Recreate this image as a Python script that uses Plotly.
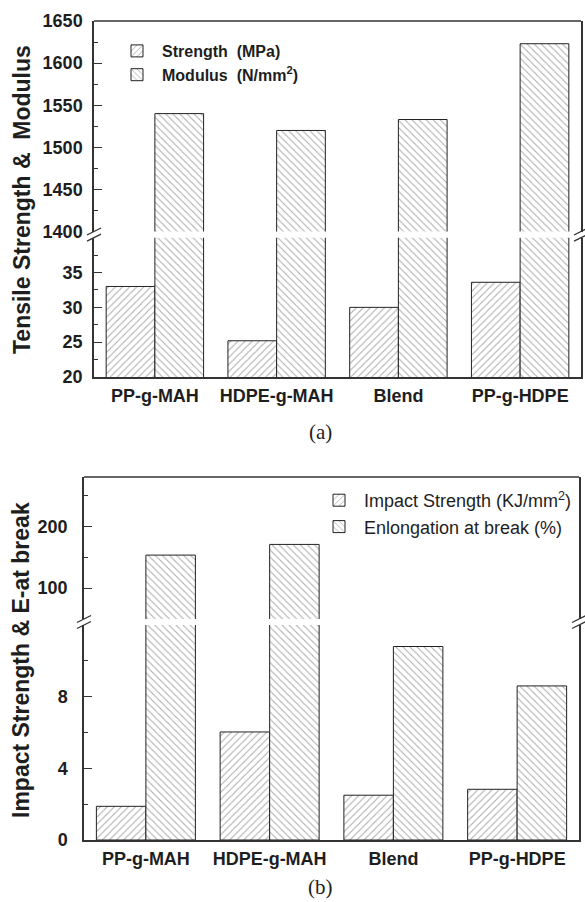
import plotly.graph_objects as go

# ---- data ----
materials = ["PP-g-MAH", "HDPE-g-MAH", "Blend", "PP-g-HDPE"]

tensile_strength = [33.0, 25.2, 30.0, 33.6]        # MPa
tensile_modulus = [1540, 1520, 1533, 1623]          # N/mm2

impact_strength = [1.88, 6.03, 2.50, 2.83]          # KJ/mm2
elongation_break = [153.5, 170.8, 10.8, 8.6]        # %

# ---- figure geometry (pixels) ----
W, H = 585, 902


def px_x(p):
    return p / W


def px_y(p):
    return 1 - p / H


FONT = "Liberation Sans, Arial, sans-serif"
INK = "#1e1e1e"
AXIS = "#333333"
HATCH = "#555555"

fig = go.Figure()


def hatch(shape):
    return dict(shape=shape, fgcolor=HATCH, bgcolor="white", size=5, solidity=0.2)


def add_pair(xref, y_low, y_up, vals_a, vals_b, name_a, name_b, legend):
    for yref, show in ((y_low, True), (y_up, False)):
        fig.add_trace(go.Bar(
            x=materials, y=vals_a, name=name_a, xaxis=xref, yaxis=yref,
            marker=dict(color="white", line=dict(color="#222", width=1), pattern=hatch("/")),
            showlegend=show, legend=legend, legendgroup=name_a,
        ))
        fig.add_trace(go.Bar(
            x=materials, y=vals_b, name=name_b, xaxis=xref, yaxis=yref,
            marker=dict(color="white", line=dict(color="#222", width=1), pattern=hatch("\\")),
            showlegend=show, legend=legend, legendgroup=name_b,
        ))


add_pair("x", "y", "y2", tensile_strength, tensile_modulus,
         "Strength  (MPa)", "Modulus  (N/mm<sup>2</sup>)", "legend")
add_pair("x2", "y3", "y4", impact_strength, elongation_break,
         "Impact Strength (KJ/mm<sup>2</sup>)", "Enlongation at break (%)", "legend2")

tickfont = dict(family=FONT, size=18, color=INK, weight="bold")


def yax(domain, rng, tickvals, minor_vals, anchor, standoff):
    return dict(
        domain=domain, range=rng, anchor=anchor,
        tickmode="array", tickvals=tickvals,
        ticks="inside", ticklen=8, tickwidth=1.3, tickcolor=AXIS,
        minor=dict(tickmode="array", tickvals=minor_vals, ticks="inside",
                   ticklen=4, tickwidth=1.3, tickcolor=AXIS),
        showline=True, linecolor=AXIS, linewidth=1.5, mirror=True,
        showgrid=False, zeroline=False, tickfont=tickfont,
        ticklabelstandoff=standoff, fixedrange=True, automargin=False,
    )


def xax(domain, anchor, standoff):
    return dict(
        domain=domain, anchor=anchor, type="category", range=[-0.5, 3.5],
        showline=True, linecolor=AXIS, linewidth=1.5, mirror=False,
        ticks="", showgrid=False, zeroline=False, tickfont=tickfont,
        ticklabelstandoff=standoff, fixedrange=True, automargin=False,
    )


# top chart: plot area x 94..581, upper y 21..231.5, lower y 237.7..377
# bottom chart: plot area x 84..579, upper y 477..619, lower y 625..840
fig.update_layout(
    width=W, height=H, autosize=False,
    margin=dict(l=0, r=0, t=0, b=0, pad=0, autoexpand=False),
    paper_bgcolor="white", plot_bgcolor="white",
    barmode="group", bargap=0.2, bargroupgap=0,
    xaxis=xax([px_x(94), px_x(581)], "y", 2),
    yaxis=yax([px_y(377), px_y(237.7)], [20, 40], [20, 25, 30, 35],
              [22.5, 27.5, 32.5, 37.5], "x", 6),
    yaxis2=yax([px_y(231.5), px_y(21)], [1400, 1650],
               [1400, 1450, 1500, 1550, 1600, 1650],
               [1425, 1475, 1525, 1575, 1625], "x", 6),
    xaxis2=xax([px_x(84), px_x(579)], "y3", 2),
    yaxis3=yax([px_y(840), px_y(625)], [0, 12], [0, 4, 8], [2, 6, 10], "x2", 11),
    yaxis4=yax([px_y(619), px_y(477)], [50, 280], [100, 200], [150, 250], "x2", 11),
    legend=dict(
        x=px_x(112), y=px_y(34), xanchor="left", yanchor="top",
        font=dict(family=FONT, size=16, color=INK, weight="bold"),
        bgcolor="rgba(0,0,0,0)", borderwidth=0, itemwidth=40,
        traceorder="normal",
    ),
    legend2=dict(
        x=px_x(577), y=px_y(482), xanchor="right", yanchor="top",
        font=dict(family=FONT, size=18, color=INK),
        bgcolor="rgba(0,0,0,0)", borderwidth=0, itemwidth=40,
        traceorder="normal",
    ),
)

shapes = []
# top border lines (the x axes only draw the bottom edge)
for xd, yd in (("x domain", "y2 domain"), ("x2 domain", "y4 domain")):
    shapes.append(dict(type="line", xref=xd, yref=yd, x0=0, x1=1, y0=1, y1=1,
                       line=dict(color=AXIS, width=1.5)))

# axis-break slashes at both sides of each chart
for xd, ylow, yup in (("x domain", "y domain", "y2 domain"),
                      ("x2 domain", "y3 domain", "y4 domain")):
    for xa in (0, 1):
        for yd, ya in ((ylow, 1), (yup, 0)):
            shapes.append(dict(
                type="line", xref=xd, yref=yd,
                xsizemode="pixel", xanchor=xa, x0=-7, x1=7,
                ysizemode="pixel", yanchor=ya, y0=-3.5, y1=3.5,
                line=dict(color=AXIS, width=1.3),
            ))
fig.update_layout(shapes=shapes)

title_font = dict(family=FONT, size=23, color=INK, weight="bold")
fig.add_annotation(text="Tensile Strength &  Modulus", xref="paper", yref="paper",
                   x=px_x(22), y=px_y(200), textangle=-90, showarrow=False,
                   font=title_font, xanchor="center", yanchor="middle")
fig.add_annotation(text="Impact Strength & E-at break", xref="paper", yref="paper",
                   x=px_x(21), y=px_y(660), textangle=-90, showarrow=False,
                   font=title_font, xanchor="center", yanchor="middle")

panel_font = dict(family="Liberation Serif, Times New Roman, serif", size=21, color=INK)
fig.add_annotation(text="(a)", xref="paper", yref="paper", x=px_x(320), y=px_y(432),
                   showarrow=False, font=panel_font, xanchor="center", yanchor="middle")
fig.add_annotation(text="(b)", xref="paper", yref="paper", x=px_x(320), y=px_y(901),
                   showarrow=False, font=panel_font, xanchor="center", yanchor="bottom")

fig.write_html("out.html")
